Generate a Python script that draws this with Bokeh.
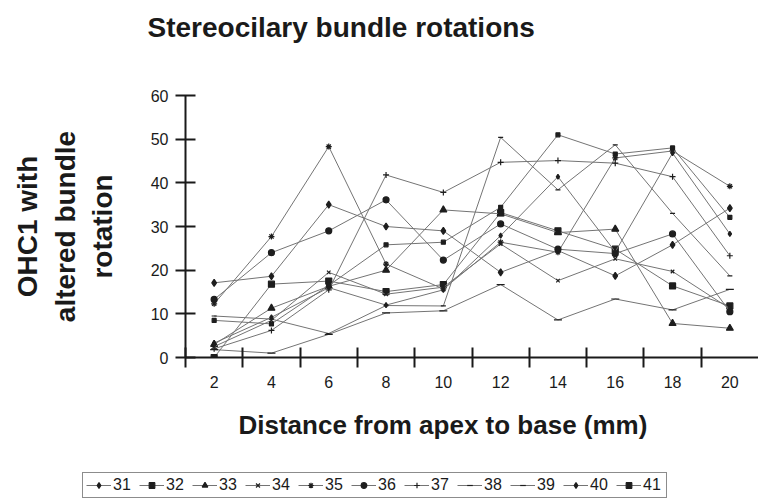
from bokeh.plotting import figure
from bokeh.models import Range1d, FixedTicker, Legend, LegendItem, Title
from bokeh.layouts import column, row
from bokeh.embed import file_html
from bokeh.resources import INLINE

distance = [2, 4, 6, 8, 10, 12, 14, 16, 18, 20]
x_tick_labels = ["2", "4", "6", "8", "10", "12", "14", "16", "18", "20"]
y_ticks = [0, 10, 20, 30, 40, 50, 60]

s31 = [17.1, 18.6, 35.0, 30.0, 29.0, 19.5, 24.5, 18.7, 25.8, 34.2]
s32 = [0.0, 16.8, 17.5, 15.1, 16.7, 33.2, 29.0, 24.8, 16.4, 11.8]
s33 = [3.0, 11.3, 16.3, 20.0, 33.8, 32.9, 28.6, 29.4, 7.8, 6.7]
s34 = [2.5, 8.5, 19.5, 14.5, 16.1, 26.0, 17.6, 22.6, 19.7, 11.2]
s35 = [12.3, 27.7, 48.3, 21.4, 15.7, 26.4, 24.1, 45.7, 47.3, 39.2]
s36 = [13.3, 24.0, 29.0, 36.1, 22.3, 30.6, 24.8, 23.8, 28.3, 10.5]
s37 = [2.0, 6.2, 15.5, 41.8, 37.8, 44.7, 45.1, 44.5, 41.4, 23.3]
s38 = [9.5, 8.8, 5.5, 11.9, 11.8, 50.4, 38.4, 48.7, 33.0, 18.7]
s39 = [1.8, 1.0, 5.3, 10.2, 10.7, 16.7, 8.6, 13.4, 10.9, 15.6]
s40 = [3.3, 9.2, 16.0, 12.0, 15.5, 27.9, 41.4, 24.2, 46.8, 28.3]
s41 = [8.5, 7.7, 16.5, 25.8, 26.4, 34.4, 51.0, 46.6, 48.0, 32.1]

series_names = ["31", "32", "33", "34", "35", "36", "37", "38", "39", "40", "41"]
series_values = [s31, s32, s33, s34, s35, s36, s37, s38, s39, s40, s41]
markers = ["diamond", "square", "triangle", "x", "asterisk", "circle",
           "cross", "dash", "dash", "diamond", "square"]
msizes = [7, 6, 7, 5, 6, 6, 6, 5, 8, 5, 4]

FONT = "Liberation Sans"
TXT = "#1a1a1a"
line_col = "#747474"
mark_col = "#1e1e1e"

p = figure(width=758, height=465, output_backend="svg", toolbar_location=None,
           x_range=Range1d(1, 21), y_range=Range1d(0, 60),
           min_border_left=185, min_border_right=0, min_border_top=95,
           min_border_bottom=108)
p.outline_line_color = None
p.xgrid.grid_line_color = None
p.ygrid.grid_line_color = None

for name, vals, mk, ms in zip(series_names, series_values, markers, msizes):
    p.line(distance, vals, line_color=line_col, line_width=1)
    p.scatter(distance, vals, marker=mk, size=ms, fill_color=mark_col,
              line_color=mark_col, line_width=1.2)

# x axis
xa = p.xaxis[0]
xa.ticker = FixedTicker(ticks=distance, minor_ticks=[1, 3, 5, 7, 9, 11, 13, 15, 17, 19])
xa.major_label_overrides = {d: t for d, t in zip(distance, x_tick_labels)}
xa.major_tick_line_color = None
xa.major_tick_out = 0
xa.major_tick_in = 0
xa.minor_tick_line_color = "#1a1a1a"
xa.minor_tick_line_width = 2
xa.minor_tick_out = 10
xa.minor_tick_in = 10
xa.axis_line_color = "#1a1a1a"
xa.axis_line_width = 2
xa.major_label_text_font = FONT
xa.major_label_text_font_size = "16px"
xa.major_label_text_color = TXT
xa.major_label_standoff = 8

# y axis
ya = p.yaxis[0]
ya.ticker = FixedTicker(ticks=y_ticks, minor_ticks=[])
ya.major_tick_line_color = "#1a1a1a"
ya.major_tick_line_width = 2
ya.major_tick_out = 10
ya.major_tick_in = 10
ya.axis_line_color = "#1a1a1a"
ya.axis_line_width = 2
ya.major_label_text_font = FONT
ya.major_label_text_font_size = "16px"
ya.major_label_text_color = TXT
ya.major_label_standoff = 7
ya.axis_label = "OHC1 with\naltered bundle\nrotation"
ya.axis_label_text_font = FONT
ya.axis_label_text_font_size = "28px"
ya.axis_label_text_font_style = "bold"
ya.axis_label_text_color = TXT
ya.axis_label_standoff = 30

xt = Title(text="Distance from apex to base (mm)", align="left", offset=53,
           text_font=FONT, text_font_size="26px", text_font_style="bold",
           text_color=TXT, standoff=34)
p.add_layout(xt, "below")

mt = Title(text="Stereocilary bundle rotations\n ", align="left", offset=-38,
           text_font=FONT, text_font_size="28px", text_font_style="bold",
           text_color=TXT, standoff=0, vertical_align="top",
           text_line_height=1.65)
p.add_layout(mt, "above")

# legend strip
p2 = figure(width=758, height=37, output_backend="svg", toolbar_location=None,
            x_range=Range1d(100, 101), y_range=Range1d(100, 101),
            min_border_left=0, min_border_right=0, min_border_top=0,
            min_border_bottom=0, x_axis_location=None, y_axis_location=None)
p2.outline_line_color = None
p2.xgrid.grid_line_color = None
p2.ygrid.grid_line_color = None
items = []
for name, vals, mk, ms in zip(series_names, series_values, markers, msizes):
    r1 = p2.line(distance, vals, line_color=line_col, line_width=1)
    r2 = p2.scatter(distance, vals, marker=mk, size=ms, fill_color=mark_col,
                    line_color=mark_col, line_width=1.2)
    items.append(LegendItem(label=name, renderers=[r1, r2]))

legend = Legend(items=items, orientation="horizontal", location=(82, 4),
                label_text_font=FONT, label_text_font_size="16px",
                label_text_color=TXT, glyph_width=25, glyph_height=14,
                label_standoff=2, spacing=6, padding=3, margin=0,
                border_line_color="#1a1a1a", border_line_width=1,
                background_fill_color="white", background_fill_alpha=1.0,
                label_height=14)
p2.add_layout(legend, "center")

layout = column(p, row(p2), spacing=0)
open("out.html", "w").write(file_html(layout, INLINE))
